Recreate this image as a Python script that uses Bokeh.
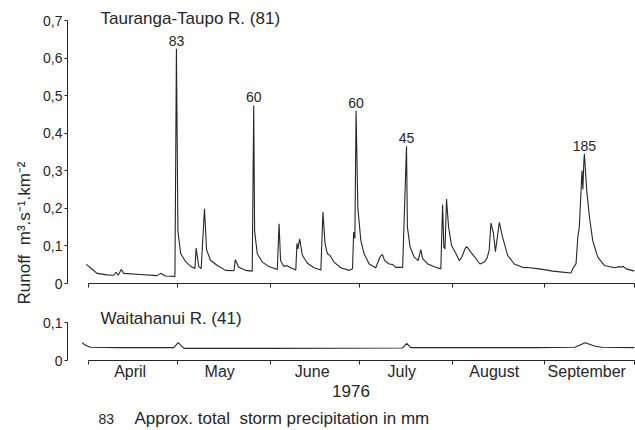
import math
from datetime import date
from bokeh.plotting import figure
from bokeh.core.properties import value
from bokeh.models import (ColumnDataSource, FixedTicker, CustomJSTickFormatter,
                          CustomLabelingPolicy, Label, LabelSet, Range1d, Title)
from bokeh.layouts import column
from bokeh.embed import file_html
from bokeh.resources import INLINE

# ---------------- data (x = days since 1 April 1976) ----------------
tauranga_day = [
    -0.7, 0.7, 2.9, 6.3, 8.5, 9.3, 10.0, 11.0, 11.9, 17.4, 23.0, 24.2, 25.8, 29.0,
    29.5, 30.0, 30.9, 32.6, 34.2, 35.7, 36.1, 37.0, 37.8, 38.9, 39.6, 40.9, 43.2,
    46.0, 48.8, 49.2, 50.4, 52.7, 54.9, 55.4, 55.7, 56.6, 58.3, 60.5, 63.3, 63.9,
    64.4, 65.5, 66.3, 67.8, 69.5, 69.9, 70.2, 70.8, 71.7, 73.4, 75.6, 77.9, 78.6,
    79.3, 80.1, 80.9, 82.3, 84.6, 87.4, 88.5, 88.9, 89.3, 89.7, 90.3, 91.3, 92.4,
    94.1, 96.3, 97.8, 98.5, 99.3, 100.8, 101.9, 103.0, 105.3, 106.6, 106.9, 107.8,
    109.2, 110.5, 111.4, 112.0, 113.7, 116.4, 118.1, 118.7, 119.1, 119.5, 120.0,
    120.7, 121.7, 123.2, 124.3, 125.1, 126.2, 126.8, 128.2, 129.9, 131.2, 132.7,
    133.6, 134.3, 134.9, 135.7, 136.4, 137.7, 138.8, 140.5, 142.7, 145.5, 147.8,
    151.1, 155.6, 161.7, 162.5, 163.4, 164.0, 164.5, 165.1, 165.4, 165.7, 166.0,
    166.2, 167.0, 167.9, 169.0, 170.7, 172.9, 176.3, 178.0, 178.6, 179.1, 180.2,
    183.0]
tauranga_runoff = [
    0.051, 0.042, 0.027, 0.023, 0.022, 0.030, 0.022, 0.037, 0.027, 0.024, 0.021, 0.027, 0.020, 0.019,
    0.625, 0.140, 0.080, 0.058, 0.046, 0.040, 0.094, 0.045, 0.040, 0.199, 0.090, 0.062, 0.048,
    0.035, 0.034, 0.063, 0.043, 0.035, 0.033, 0.474, 0.140, 0.079, 0.057, 0.045, 0.037, 0.159,
    0.061, 0.045, 0.048, 0.042, 0.036, 0.107, 0.092, 0.119, 0.075, 0.054, 0.042, 0.036, 0.190,
    0.106, 0.079, 0.075, 0.057, 0.042, 0.035, 0.039, 0.137, 0.120, 0.460, 0.200, 0.114, 0.079,
    0.052, 0.042, 0.072, 0.077, 0.061, 0.052, 0.051, 0.043, 0.043, 0.365, 0.150, 0.097,
    0.070, 0.061, 0.090, 0.066, 0.052, 0.043, 0.039, 0.210, 0.097, 0.092, 0.225,
    0.150, 0.101, 0.079, 0.061, 0.070, 0.092, 0.098, 0.083, 0.066, 0.052, 0.057,
    0.068, 0.088, 0.161, 0.135, 0.085, 0.163, 0.123, 0.075, 0.052, 0.043, 0.042,
    0.039, 0.033, 0.028, 0.043, 0.052, 0.123, 0.150, 0.248, 0.301, 0.250, 0.319,
    0.345, 0.248, 0.177, 0.114, 0.070, 0.048, 0.042, 0.045, 0.043, 0.046, 0.039,
    0.033]

waitahanui_day = [-2.1, -1.0, 0.7, 10.0, 28.6, 30.1, 32.0, 60.0, 105.3, 106.7, 108.0,
                  150.0, 163.0, 166.5, 169.5, 172.0, 183.0]
waitahanui_runoff = [0.047, 0.040, 0.035, 0.034, 0.034, 0.047, 0.032, 0.032, 0.033, 0.045, 0.034,
                     0.034, 0.035, 0.047, 0.038, 0.035, 0.034]

storm_day = [29.5, 55.4, 89.7, 106.6, 166.2]
storm_precip_mm = ["83", "60", "60", "45", "185"]

month_names = ["April", "May", "June", "July", "August", "September"]
top_y_ticks = [0, 0.1, 0.2, 0.3, 0.4, 0.5, 0.6, 0.7]
bottom_y_ticks = [0, 0.1]

# ---------------- derived ----------------
origin = date(1976, 4, 1)
month_bounds = [(date(1976, m, 1) - origin).days for m in range(4, 11)]
month_mid = [(date(1976, m, 15) - origin).days for m in range(4, 10)]
storm_val = [tauranga_runoff[tauranga_day.index(d)] for d in storm_day]

INK = "#262626"
FONT = "Liberation Sans"
NB = "\u00a0"
fmt = CustomJSTickFormatter(code="return tick == 0 ? '0' : tick.toFixed(1).replace('.', ',');")

# layout geometry (pixels)
W = 635
LEFT = 67
TOP_H, BOT_H, FOOT_H = 305, 100, 25
TOP_FRAME_TOP, TOP_FRAME_BOTTOM = 4, 283          # canvas y of top frame edges
BOT_FRAME_TOP, BOT_FRAME_BOTTOM = 305, 360
PX_TOP = 375.7   # px per runoff unit, top panel
PX_BOT = 380.0   # px per runoff unit, bottom panel


def style(p):
    p.grid.visible = False
    p.outline_line_color = None
    for ax in p.axis:
        ax.axis_line_color = INK
        ax.major_tick_line_color = INK
        ax.minor_tick_line_color = None
        ax.major_label_text_color = INK
        ax.major_label_text_font = FONT
        ax.major_label_text_font_size = "14px"


# ---------------- top panel ----------------
top = figure(width=W, height=TOP_H, title=None,
             x_range=Range1d(-7, 183),
             y_range=Range1d(0, (TOP_FRAME_BOTTOM - TOP_FRAME_TOP) / PX_TOP),
             output_backend="svg", toolbar_location=None,
             min_border_left=LEFT, min_border_right=1, min_border_top=TOP_FRAME_TOP,
             min_border_bottom=TOP_H - TOP_FRAME_BOTTOM)
style(top)
top.line(tauranga_day, tauranga_runoff, line_color=INK, line_width=1.1)

top.xaxis.bounds = (0, 183)
top.xaxis.ticker = FixedTicker(ticks=month_bounds)
top.xaxis.major_tick_out = 4
top.xaxis.major_tick_in = 0
top.xaxis.major_label_policy = CustomLabelingPolicy(
    code="for (const i of indices) { indices.unset(i) } return indices")
top.yaxis.bounds = (0, 0.7)
top.yaxis.ticker = FixedTicker(ticks=top_y_ticks)
top.yaxis.formatter = fmt
top.yaxis.major_tick_out = 3
top.yaxis.major_tick_in = 0
top.yaxis.major_label_standoff = 2

src = ColumnDataSource(dict(x=storm_day, y=storm_val, t=storm_precip_mm))
top.add_layout(LabelSet(x="x", y="y", text="t", source=src, text_align="center",
                        text_baseline="alphabetic", y_offset=3, text_font=value(FONT),
                        text_font_size="14px", text_color=INK))

top.add_layout(Label(x=100 - LEFT, y=TOP_FRAME_BOTTOM - 18, x_units="screen", y_units="screen",
                     text="Tauranga-Taupo R. (81)", text_align="left", text_baseline="middle",
                     text_font=FONT, text_font_size="17px", text_color=INK))
top.add_layout(Title(text=f"Runoff{NB}{NB}m³.s⁻¹.km⁻²", align="left", offset=-21,
                     standoff=14, text_font=FONT, text_font_size="17px",
                     text_font_style="normal", text_color=INK), "left")

# ---------------- bottom panel ----------------
bot = figure(width=W, height=BOT_H, title=None, x_range=top.x_range,
             y_range=Range1d(0, (BOT_FRAME_BOTTOM - BOT_FRAME_TOP) / PX_BOT),
             output_backend="svg", toolbar_location=None,
             min_border_left=LEFT, min_border_right=1, min_border_top=BOT_FRAME_TOP - TOP_H,
             min_border_bottom=TOP_H + BOT_H - BOT_FRAME_BOTTOM)
style(bot)
bot.line(waitahanui_day, waitahanui_runoff, line_color=INK, line_width=1.1)

bot.xaxis.bounds = (0, 183)
bot.xaxis.ticker = FixedTicker(ticks=month_mid, minor_ticks=month_bounds)
bot.xaxis.major_label_overrides = {d: n for d, n in zip(month_mid, month_names)}
bot.xaxis.major_tick_line_color = None
bot.xaxis.major_tick_out = 0
bot.xaxis.major_tick_in = 0
bot.xaxis.minor_tick_line_color = INK
bot.xaxis.minor_tick_out = 4
bot.xaxis.minor_tick_in = 0
bot.xaxis.major_label_standoff = -2
bot.xaxis.major_label_text_font_size = "16px"
bot.xaxis.axis_label = "1976"
bot.xaxis.axis_label_standoff = 2
bot.xaxis.axis_label_text_font = FONT
bot.xaxis.axis_label_text_font_style = "normal"
bot.xaxis.axis_label_text_font_size = "17px"
bot.xaxis.axis_label_text_color = INK

bot.yaxis.bounds = (0, 0.1)
bot.yaxis.ticker = FixedTicker(ticks=bottom_y_ticks)
bot.yaxis.formatter = fmt
bot.yaxis.major_tick_out = 3
bot.yaxis.major_tick_in = 0
bot.yaxis.major_label_standoff = 2

bot.add_layout(Label(x=100 - LEFT, y=BOT_FRAME_BOTTOM - 318, x_units="screen", y_units="screen",
                     text="Waitahanui R. (41)", text_align="left", text_baseline="middle",
                     text_font=FONT, text_font_size="17px", text_color=INK))

# ---------------- footnote strip (frame is aligned with the panels above) ----------------
foot = figure(width=W, height=FOOT_H, title=None, x_axis_type=None, y_axis_type=None,
              output_backend="svg", toolbar_location=None,
              min_border_left=0, min_border_right=0, min_border_top=0, min_border_bottom=0)
foot.grid.visible = False
foot.outline_line_color = None
FOOT_Y = TOP_H + BOT_H + FOOT_H - 418   # frame-relative y of footnote centre line
foot.add_layout(Label(x=98 - LEFT, y=FOOT_Y, x_units="screen", y_units="screen", text="83",
                      text_align="left", text_baseline="middle", text_font=FONT,
                      text_font_size="14px", text_color=INK))
foot.add_layout(Label(x=134 - LEFT, y=FOOT_Y, x_units="screen", y_units="screen",
                      text=f"Approx.{NB}total{NB}{NB}storm precipitation in mm",
                      text_align="left", text_baseline="middle", text_font=FONT,
                      text_font_size="17px", text_color=INK))

layout = column(top, bot, foot, spacing=0)
open("out.html", "w").write(file_html(layout, INLINE))
